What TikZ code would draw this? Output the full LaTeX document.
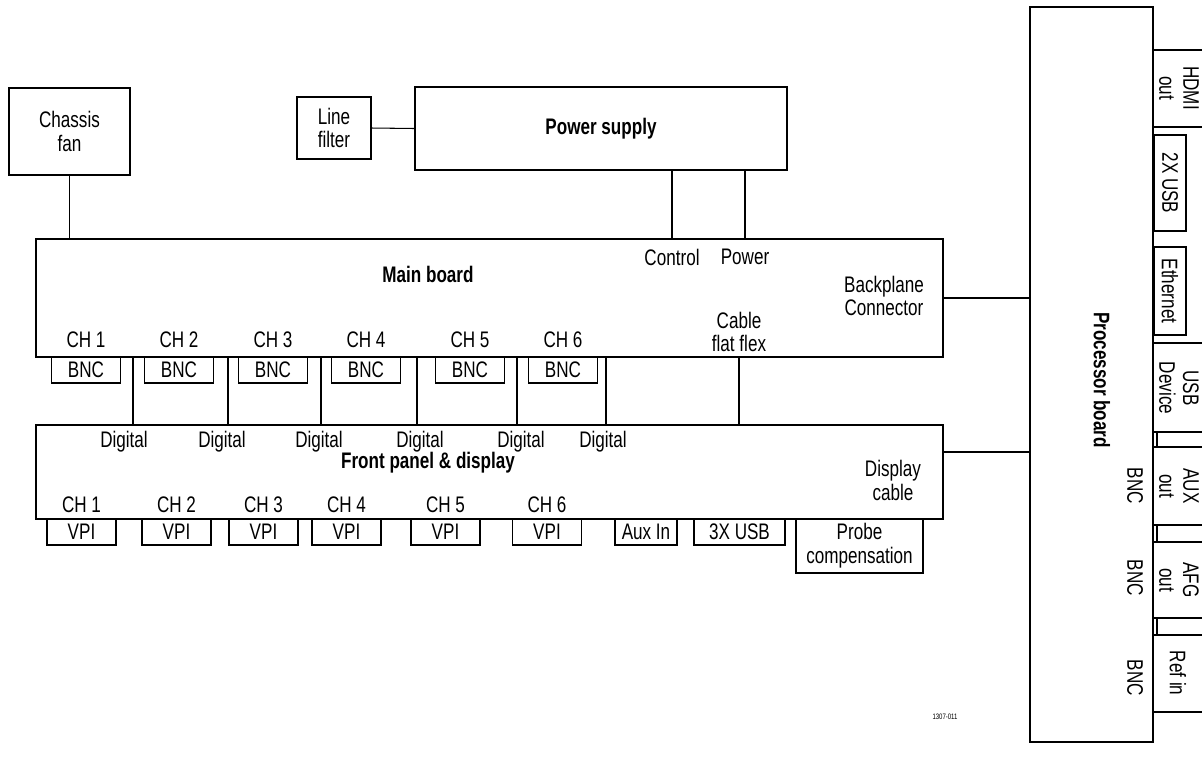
\documentclass[tikz,border=0pt]{standalone}
\usepackage{fontspec}
\setmainfont{Liberation Sans}[FakeStretch=0.76]
\usetikzlibrary{positioning,calc}

\begin{document}
\begin{tikzpicture}[
  x=0.02cm, y=-0.02cm,
  font=\fontsize{12.8}{13.6}\selectfont,
  box/.style={draw, line width=0.9pt, inner sep=0pt, outer sep=0pt, align=center},
  hdr/.style={font=\fontsize{12.8}{13.6}\selectfont\bfseries, align=center},
  jack/.style={box, minimum width=1.38cm, minimum height=0.52cm},
  lab/.style={align=center, inner sep=1pt},
  side/.style={lab, rotate=-90},
  wire/.style={line width=0.6pt}
]
\useasboundingbox (0,0) rectangle (1202,762);

% ---------------- top row ----------------
\node[box, minimum width=2.42cm, minimum height=1.74cm] (fan) at (69.5,131.5) {Chassis\\fan};
\node[box, minimum width=1.48cm, minimum height=1.24cm] (filter) at (334,128) {Line\\filter};
\node[box, hdr, minimum width=7.44cm, minimum height=1.66cm] (psu) at (601,128.5) {Power supply};

% ---------------- main board ----------------
\node[box, minimum width=18.14cm, minimum height=2.36cm] (main) at (489.5,298) {};
\node[hdr] (mainlab) at (428,274) {Main board};
\node[lab] (ctrl) at (672,257) {Control};
\node[lab] (pwr) at (745,257) {Power};
\node[lab] (bpc) at (884,296) {Backplane\\Connector};
\node[lab] (cff) at (739,332) {Cable\\flat flex};
\foreach \x [count=\i] in {86,179,273,366,470,563} {
  \node[jack, anchor=north] (bnc\i) at (\x,357) {BNC};
  \node[lab] (mch\i) at (\x,340) {CH \i};
}

% ---------------- front panel ----------------
\node[box, minimum width=18.14cm, minimum height=1.88cm] (fp) at (489.5,472) {};
\node[hdr] (fplab) at (428,463) {Front panel \& display};
\node[lab] (dcab) at (893,480) {Display\\cable};
\foreach \x [count=\i] in {81.5,176.5,263.5,346.5,445.5,547} {
  \node[jack, anchor=north] (vpi\i) at (\x,519) {VPI};
  \node[lab] (fch\i) at (\x,505) {CH \i};
}
\node[box, anchor=north, minimum width=1.24cm, minimum height=0.52cm] (auxin) at (646,519) {Aux In};
\node[box, anchor=north, minimum width=1.82cm, minimum height=0.52cm] (usb3) at (739.5,519) {3X USB};
\node[box, anchor=north, minimum width=2.54cm, minimum height=1.08cm] (probe) at (859.5,519) {Probe\\compensation};

% ---------------- processor board ----------------
\node[box, minimum width=2.46cm, minimum height=14.7cm] (proc) at (1091.5,374.5) {};
\node[hdr, rotate=-90] (proclab) at (1102,380) {Processor board};
\foreach \a/\b in {50/127,343/432,447/525,542/618,635/712} {
  \draw[line width=0.9pt] (proc.east |- 0,\a) -- ++(49,0) (proc.east |- 0,\b) -- ++(49,0);
}
\foreach \a/\b in {432/447,525/542,618/635} {
  \draw[wire] ($(proc.east |- 0,\a)+(4,0)$) -- ($(proc.east |- 0,\b)+(4,0)$);
}
\node[side] (hdmi) at (1179,88) {HDMI\\out};
\node[box, rotate=-90, minimum width=1.92cm, minimum height=0.64cm] (usb2) at (1170,183) {2X USB};
\node[box, rotate=-90, minimum width=1.76cm, minimum height=0.64cm] (eth) at (1170,291) {Ethernet};
\node[side] (usbdev) at (1179,388) {USB\\Device};
\node[side] (auxout) at (1179,486) {AUX\\out};
\node[side] (afgout) at (1179,580) {AFG\\out};
\node[side] (refin) at (1178,673) {Ref in};
\node[side] (bnca) at (1135,486) {BNC};
\node[side] (bncb) at (1135,578) {BNC};
\node[side] (bncc) at (1135,678) {BNC};

% ---------------- wires ----------------
\draw[wire] (fan.south) -- (fan.south |- main.north);
\draw[wire] (filter.east) -- (psu.west);
\draw[wire] (ctrl.north |- psu.south) -- (ctrl.north |- main.north);
\draw[wire] (pwr.north |- psu.south) -- (pwr.north |- main.north);
\draw[wire] (main.east) -- (main.east -| proc.west);
\draw[wire] (fp.east |- 0,452) -- (proc.west |- 0,452);
\draw[wire] (cff.south |- main.south) -- (cff.south |- fp.north);
\foreach \x/\l [count=\i] in {133/124,228/222,321/319,417/420,517/521,606/603} {
  \draw[wire] (main.south -| \x,0) -- (fp.north -| \x,0);
  \node[lab] (dig\i) at (\l,442) {Digital};
}

\node[font=\fontsize{4.5}{5}\selectfont] (fignum) at (945,717) {1307-011};
\end{tikzpicture}
\end{document}
